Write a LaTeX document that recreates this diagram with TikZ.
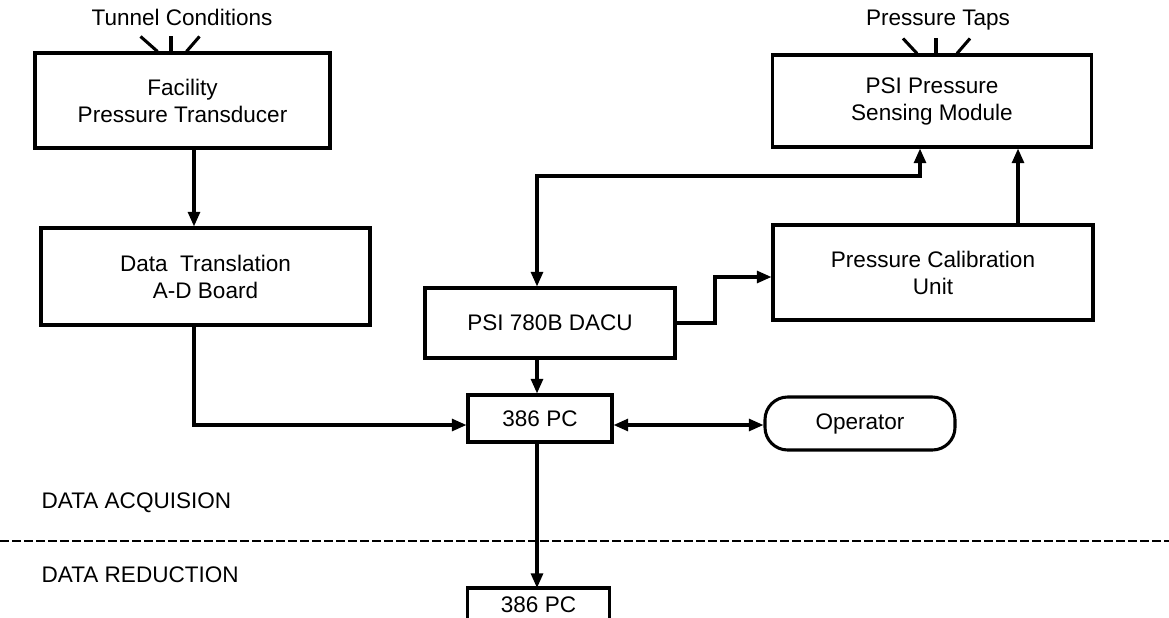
\documentclass[tikz,border=0pt]{standalone}
\usepackage{fontspec}
\setmainfont{Liberation Sans}
\usetikzlibrary{arrows.meta, calc}

\tikzset{
  block/.style={draw, line width=2.3pt, align=center, inner sep=0pt},
  flow/.style={line width=2.3pt, -{Triangle[length=11pt,width=9pt]}},
  flowboth/.style={line width=2.3pt, {Triangle[length=11pt,width=9pt]}-{Triangle[length=11pt,width=9pt]}},
  tick/.style={line width=2.3pt},
  divider/.style={line width=1.8pt, dash pattern=on 6.5pt off 2.5pt},
}

\begin{document}
\begin{tikzpicture}[x=0.75pt, y=-0.75pt, font=\fontsize{16.9}{20.25}\selectfont]
  \useasboundingbox (0,0) rectangle (1169,617);

  % Draw the acquisition blocks
  \node[block, minimum width=221.25pt, minimum height=71.25pt] (fpt) at (182.5,100.5)
    {Facility\\Pressure Transducer};
  \node[block, minimum width=246.75pt, minimum height=72.75pt] (dtb) at (205.5,276.5)
    {Data\ \ Translation\\A-D Board};
  \node[block, minimum width=239pt, minimum height=69pt] (psm) at (932,101)
    {PSI Pressure\\Sensing Module};
  \node[block, minimum width=240pt, minimum height=71.25pt] (pcu) at (933,272.5)
    {Pressure Calibration\\Unit};
  \node[block, minimum width=187.5pt, minimum height=52.5pt] (dacu) at (550,323)
    {PSI 780B DACU};
  \node[block, minimum width=108pt, minimum height=35.25pt] (pc) at (540,418.5)
    {386 PC};
  \node[block, rounded corners=17pt, minimum width=142.5pt, minimum height=39.75pt] (op) at (860,423.5)
    {Operator};

  % Reduction PC runs off the bottom edge, so only three sides show
  \node[anchor=north, minimum width=105.75pt, inner sep=0pt, minimum height=25pt] (pcred) at (538.5,588)
    {386 PC};
  \draw[line width=2.3pt] ([yshift=-12pt]pcred.south west) -- (pcred.north west)
    -- (pcred.north east) -- ([yshift=-12pt]pcred.south east);

  % Inputs above the top blocks
  \node (tunnel) at (182,17) {Tunnel Conditions};
  \node (taps) at (938,20) {Pressure Taps};
  \draw[tick] ($(fpt.north)+(-42,-15)$) -- ($(fpt.north)+(-25,0)$);
  \draw[tick] ($(fpt.north)+(-11.5,-15)$) -- ($(fpt.north)+(-11.5,0)$);
  \draw[tick] ($(fpt.north)+(17,-15)$) -- ($(fpt.north)+(4,0)$);
  \draw[tick] ($(psm.north)+(-29,-15)$) -- ($(psm.north)+(-15,0)$);
  \draw[tick] ($(psm.north)+(4,-15)$) -- ($(psm.north)+(4,0)$);
  \draw[tick] ($(psm.north)+(38,-15)$) -- ($(psm.north)+(25,0)$);

  % Routing points for the connectors
  \coordinate (adline) at (194,425);
  \coordinate (spine) at (537,176);
  \coordinate (loop) at (920,176);
  \coordinate (jog) at (715,277);
  \coordinate (calup) at (1018,0);

  % Draw the signal paths
  \draw[flow] (fpt.south -| adline) -- (dtb.north -| adline);
  \draw[flow] (dtb.south -| adline) -- (adline) -- (pc.west |- adline);
  \draw[flow] (dacu.south -| spine) -- (pc.north -| spine);
  \draw[flowboth] (dacu.north -| spine) -- (spine) -- (loop) -- (psm.south -| loop);
  \draw[flow] (dacu.east) -- (dacu.east -| jog) -- (jog) -- (pcu.west |- jog);
  \draw[flow] (pcu.north -| calup) -- (psm.south -| calup);
  \draw[flowboth] (pc.east |- adline) -- (op.west |- adline);
  \draw[flow] (pc.south -| spine) -- (pcred.north -| spine);

  % Split between acquisition and reduction
  \draw[divider] (0,541) -- (1169,541);
  \node[anchor=west] (acq) at (37,503) {DATA ACQUISION};
  \node[anchor=west] (red) at (37,575) {DATA REDUCTION};
\end{tikzpicture}
\end{document}
